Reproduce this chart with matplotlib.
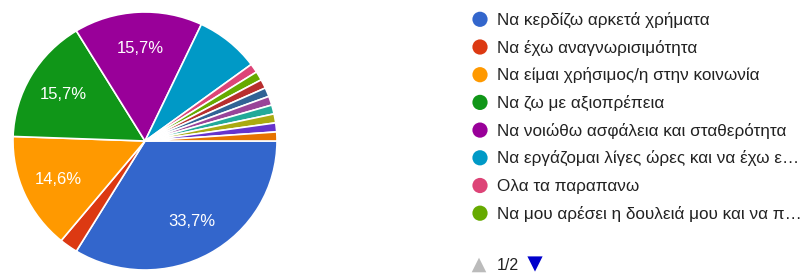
import matplotlib
matplotlib.use("Agg")
import matplotlib.pyplot as plt

plt.rcParams['font.family'] = ['Liberation Sans', 'DejaVu Sans']

# responses (n = 89), clockwise from 3 o'clock
counts = [30, 2, 13, 14, 14, 7, 1, 1, 1, 1, 1, 1, 1, 1, 1]
colors = ['#3366cc', '#dc3912', '#ff9900', '#109618', '#990099', '#0099c6',
          '#dd4477', '#66aa00', '#b82e2e', '#316395', '#994499', '#22aa99',
          '#aaaa11', '#6633cc', '#e67300']
legend_labels = [
    'Να κερδίζω αρκετά χρήματα',
    'Να έχω αναγνωρισιμότητα',
    'Να είμαι χρήσιμος/η στην κοινωνία',
    'Να ζω με αξιοπρέπεια',
    'Να νοιώθω ασφάλεια και σταθερότητα',
    'Να εργάζομαι λίγες ώρες και να έχω ε…',
    'Ολα τα παραπανω',
    'Να μου αρέσει η δουλειά μου και να π…',
]
page_text = '1/2'

W, H = 809, 276
fig = plt.figure(figsize=(W / 100, H / 100), dpi=100)

# pie (screenshot is slightly stretched horizontally)
cx, cy, rx, ry = 145, 141, 132, 129
ax = fig.add_axes([(cx - rx) / W, (H - cy - ry) / H, 2 * rx / W, 2 * ry / H])

def fmt(p):
    return ('%.1f%%' % p).replace('.', ',') if p > 10 else ''

wedges, texts, autotexts = ax.pie(
    counts, colors=colors, startangle=0, counterclock=False,
    autopct=fmt, pctdistance=0.72,
    wedgeprops=dict(edgecolor='white', linewidth=1.2),
    textprops=dict(color='white', fontsize=12))
ax.set_xlim(-1, 1)
ax.set_ylim(-1, 1)
ax.set_aspect('auto')
for w in wedges:
    w.set_clip_on(False)

# legend
lx = fig.add_axes([0, 0, 1, 1])
lx.set_xlim(0, W)
lx.set_ylim(H, 0)
lx.axis('off')
y0, dy = 19.3, 27.7
for i, lab in enumerate(legend_labels):
    y = y0 + i * dy
    lx.scatter([480], [y], s=120, color=colors[i], edgecolors='none')
    lx.text(497, y + 0.5, lab, fontsize=12.3, color='#222222', va='center', ha='left')

lx.scatter([479], [265], marker='^', s=110, color='#bbbbbb', edgecolors='none')
lx.text(497, 265, page_text, fontsize=11.5, color='#222222', va='center', ha='left')
lx.scatter([535], [264], marker='v', s=120, color='#0000cc', edgecolors='none')

fig.savefig('out.png', dpi=100)
